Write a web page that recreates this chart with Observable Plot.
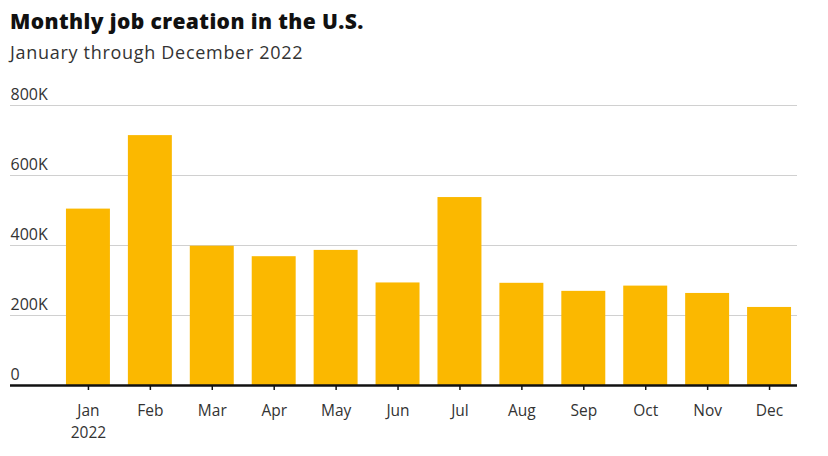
<!DOCTYPE html>
<html>
<head>
<meta charset="utf-8">
<script src="https://cdn.jsdelivr.net/npm/d3@7"></script>
<script src="https://cdn.jsdelivr.net/npm/@observablehq/plot@0.6"></script>
<style>
  html, body { margin: 0; padding: 0; background: #fff; }
  body { width: 828px; height: 456px; overflow: hidden; font-family: "Open Sans", sans-serif; }
  #head { height: 70px; padding-left: 10px; box-sizing: border-box; overflow: hidden; }
  #title { font-size: 21px; font-weight: 800; color: #111; padding-top: 8px; line-height: 27px; letter-spacing: 0.4px; }
  #subtitle { font-size: 18px; color: #333; line-height: 24px; margin-top: 5px; letter-spacing: 0.7px; }
  svg { display: block; }
</style>
</head>
<body>
<div id="head">
  <div id="title">Monthly job creation in the U.S.</div>
  <div id="subtitle">January through December 2022</div>
</div>
<div id="chart"></div>
<script>
const months = ["Jan","Feb","Mar","Apr","May","Jun","Jul","Aug","Sep","Oct","Nov","Dec"];
const jobs = [504000, 714000, 398000, 368000, 386000, 293000, 537000, 292000, 269000, 284000, 263000, 223000];
const yTicks = [0, 200000, 400000, 600000, 800000];
const yTickLabels = ["0", "200K", "400K", "600K", "800K"];

const data = months.map((m, i) => ({month: m, value: jobs[i]}));
const tickData = yTicks.map((v, i) => ({v, label: yTickLabels[i]}));

const chart = Plot.plot({
  width: 828,
  height: 386,
  marginLeft: 10,
  marginRight: 31,
  marginTop: 35,
  marginBottom: 71,
  style: {fontFamily: "'Open Sans', sans-serif", fontSize: "15px", color: "#333"},
  x: {domain: months, range: [48, 809], padding: 0.29, round: false, label: null},
  y: {domain: [0, 800000], axis: null},
  marks: [
    Plot.ruleY(yTicks.filter(d => d > 0), {stroke: "#d0d0d0", strokeWidth: 1}),
    Plot.text(tickData, {y: "v", text: "label", frameAnchor: "left", textAnchor: "start", dy: -11, fontSize: 16, fill: "#333"}),
    Plot.barY(data, {x: "month", y: "value", fill: "#fbb800"}),
    Plot.ruleY([0], {stroke: "#111", strokeWidth: 2.5}),
    Plot.axisX({
      tickSize: 5,
      tickPadding: 10,
      fontSize: 15.5,
      lineHeight: 1.4,
      stroke: "#111",
      strokeWidth: 1.5,
      tickFormat: d => d === "Jan" ? "Jan\n2022" : d,
      label: null
    })
  ]
});
document.getElementById("chart").appendChild(chart);
</script>
</body>
</html>
